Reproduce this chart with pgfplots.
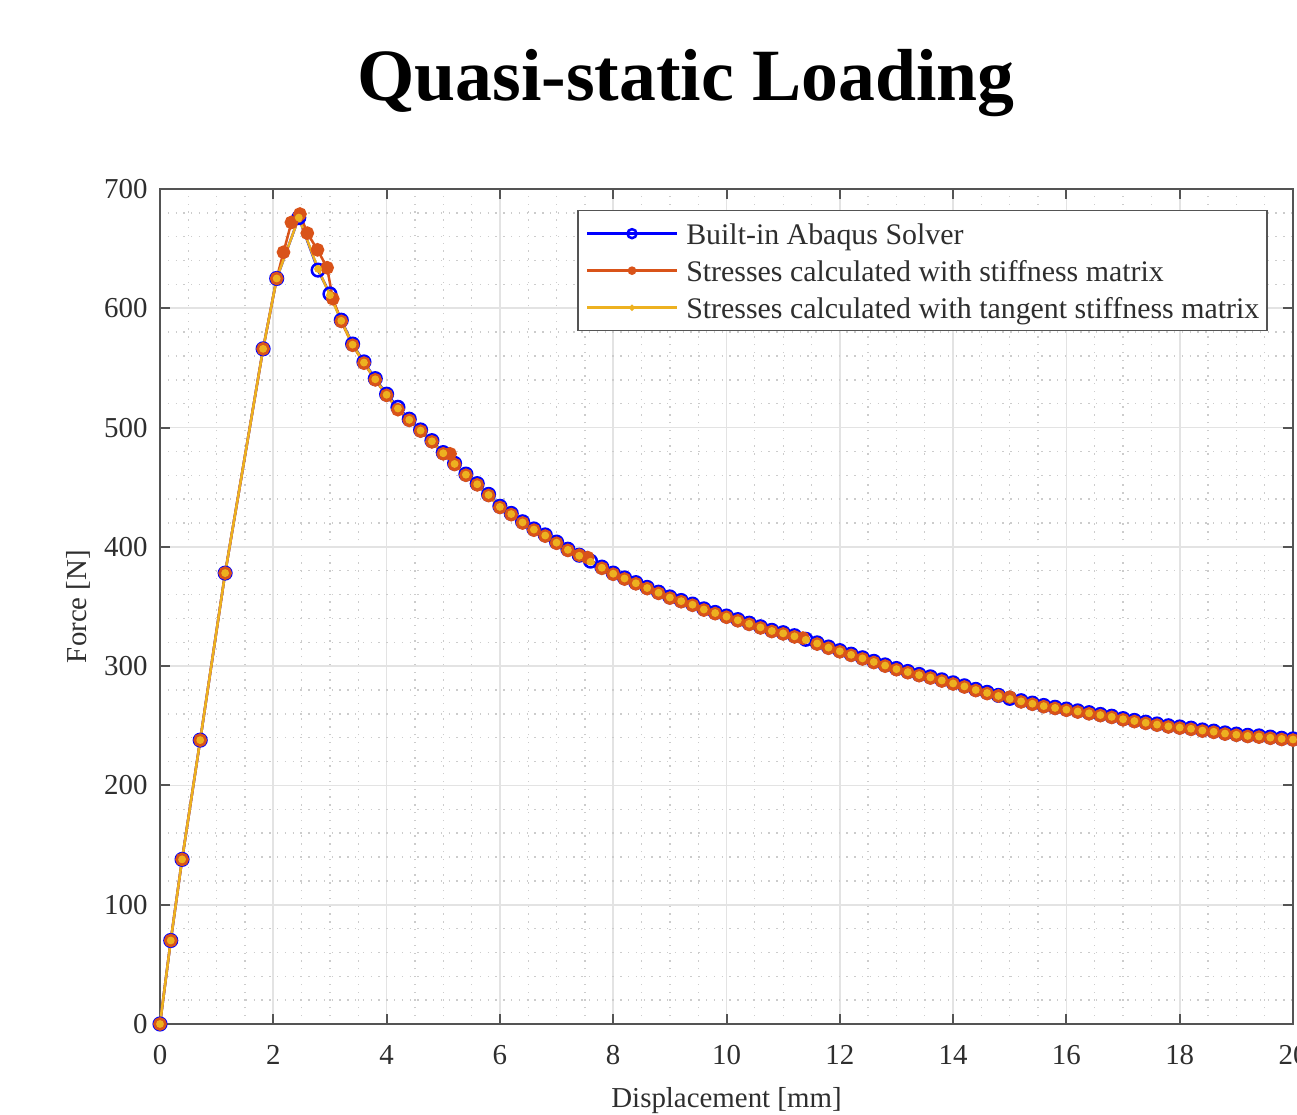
\documentclass[border=0pt]{standalone}
\usepackage{fontspec}
\setmainfont{Liberation Serif}
\usepackage{pgfplots}
\usepackage{pgfplotstable}
\pgfplotsset{compat=1.18}

\definecolor{mblue}{rgb}{0,0,1}
\definecolor{morange}{rgb}{0.85,0.325,0.098}
\definecolor{myellow}{rgb}{0.929,0.694,0.125}
\definecolor{axgray}{rgb}{0.33,0.33,0.33}
\definecolor{txtgray}{rgb}{0.18,0.18,0.18}

% Built-in Abaqus solver
\pgfplotstableread{
x y
0 0
0.19 70
0.39 138
0.71 238
1.15 378
1.82 566
2.06 625
2.45 676
2.79 632
3.0 612
3.2 590
3.4 570
3.6 555
3.8 541
4.0 528
4.2 517
4.4 507
4.6 498
4.8 489
5.0 479
5.2 470
5.4 461
5.6 453
5.8 444
6.0 434
6.2 428
6.4 421
6.6 415
6.8 410
7.0 404
7.2 398
7.4 393
7.6 388
7.8 383
8.0 378
8.2 374
8.4 370
8.6 366
8.8 362
9.0 358
9.2 355
9.4 352
9.6 348
9.8 345
10.0 342
10.2 339
10.4 336
10.6 333
10.8 330
11.0 328
11.2 325.5
11.4 322.5
11.6 319.5
11.8 316
12.0 313
12.2 310
12.4 307
12.6 304
12.8 301
13.0 298
13.2 295.5
13.4 293
13.6 291
13.8 288.5
14.0 286
14.2 283.5
14.4 280.5
14.6 278
14.8 275.5
15.0 273
15.2 271
15.4 269
15.6 267
15.8 265.5
16.0 264
16.2 262.5
16.4 261
16.6 259.5
16.8 258
17.0 256
17.2 254.5
17.4 253
17.6 251.5
17.8 250
18.0 249
18.2 248
18.4 246.5
18.6 245.5
18.8 244
19.0 243
19.2 242
19.4 241.5
19.6 240.5
19.8 239.5
20.0 239
}\abaqus

% stiffness matrix
\pgfplotstableread{
x y
0 0
0.19 70
0.39 138
0.71 238
1.15 378
1.82 566
2.06 625
2.18 647
2.32 672
2.47 679
2.60 663
2.78 649
2.95 634
3.05 608
3.2 589
3.4 569
3.6 554
3.8 540
4.0 527
4.2 515
4.4 506
4.6 497
4.8 488
5.0 478
5.12 478
5.2 469
5.4 460
5.6 452
5.8 443
6.0 433
6.2 427
6.4 420
6.6 414
6.8 409
7.0 403
7.2 397
7.4 393
7.55 391
7.8 382
8.0 377
8.2 373
8.4 369
8.6 365
8.8 361
9.0 357
9.2 354
9.4 351
9.6 347
9.8 344
10.0 341
10.2 338
10.4 335
10.6 332
10.8 329
11.0 327
11.2 324.5
11.35 323.5
11.6 318.5
11.8 315
12.0 312
12.2 309
12.4 306
12.6 303
12.8 300
13.0 297
13.2 294.5
13.4 292
13.6 290
13.8 287.5
14.0 285
14.2 282.5
14.4 279.5
14.6 277
14.8 275
15.0 274
15.2 270
15.4 268
15.6 266
15.8 264.5
16.0 263
16.2 261.5
16.4 260
16.6 258.5
16.8 257
17.0 255
17.2 253.5
17.4 252
17.6 250.5
17.8 249
18.0 248
18.2 247
18.4 245.5
18.6 244.5
18.8 243
19.0 242
19.2 241
19.4 240.5
19.6 239.5
19.8 238.5
20.0 238
}\stiff

% tangent stiffness matrix
\pgfplotstableread{
x y
0 0
0.19 70
0.39 138
0.71 238
1.15 378
1.82 566
2.06 625
2.45 676
2.79 633
3.0 611
3.2 589.5
3.4 569.5
3.6 554.5
3.8 540.5
4.0 527.5
4.2 516
4.4 506.5
4.6 497.5
4.8 488.5
5.0 478.5
5.2 469.5
5.4 460.5
5.6 452.5
5.8 443.5
6.0 433.5
6.2 427.5
6.4 420.5
6.6 414.5
6.8 409.5
7.0 403.5
7.2 397.5
7.4 392.5
7.6 387.5
7.8 382.5
8.0 377.5
8.2 373.5
8.4 369.5
8.6 365.5
8.8 361.5
9.0 357.5
9.2 354.5
9.4 351.5
9.6 347.5
9.8 344.5
10.0 341.5
10.2 338.5
10.4 335.5
10.6 332.5
10.8 329.5
11.0 327.5
11.2 325
11.4 322
11.6 319
11.8 315.5
12.0 312.5
12.2 309.5
12.4 306.5
12.6 303.5
12.8 300.5
13.0 297.5
13.2 295
13.4 292.5
13.6 290.5
13.8 288
14.0 285.5
14.2 283
14.4 280
14.6 277.5
14.8 275
15.0 272.5
15.2 270.5
15.4 268.5
15.6 266.5
15.8 265
16.0 263.5
16.2 262
16.4 260.5
16.6 259
16.8 257.5
17.0 255.5
17.2 254
17.4 252.5
17.6 251
17.8 249.5
18.0 248.5
18.2 247.5
18.4 246
18.6 245
18.8 243.5
19.0 242.5
19.2 241.5
19.4 241
19.6 240
19.8 239
20.0 238.5
}\tangent

\begin{document}
\begin{tikzpicture}
\begin{axis}[
  at={(0,0)}, anchor=south west,
  scale only axis, width=1133bp, height=835bp,
  xmin=0, xmax=20, ymin=0, ymax=700,
  xtick={0,2,...,20}, ytick={0,100,...,700},
  minor x tick num=3, minor y tick num=4,
  grid=both,
  major grid style={line width=1.8bp, color=black!11},
  minor grid style={line width=1.3bp, color=black!20, dash pattern=on 1.3bp off 6.5bp},
  axis line style={line width=2bp, color=axgray},
  major tick style={line width=2bp, color=axgray},
  major tick length=10bp, minor tick length=0bp,
  tick align=inside,
  ticklabel style={font=\fontsize{29}{30}\selectfont, color=txtgray},
  xticklabel style={yshift=-18bp},
  yticklabel style={xshift=-9bp},
  /pgf/number format/assume math mode=true,
  xlabel={Displacement [mm]}, ylabel={Force [N]},
  label style={font=\fontsize{29}{30}\selectfont, color=txtgray},
  x label style={at={(axis description cs:0.5,-0.092)}, anchor=center},
  y label style={at={(axis description cs:-0.072,0.5)}, anchor=center},
  legend style={at={(0.978,0.975)}, anchor=north east,
    font=\fontsize{30}{36}\selectfont, draw=axgray, line width=1.6bp,
    fill=white, inner xsep=8bp, inner ysep=8bp,
    nodes={inner sep=0pt, text height=26bp, text depth=4bp, text=txtgray},
    row sep=7bp, column sep=8bp},
  legend cell align=left,
  legend image code/.code={
    \draw[mark repeat=2,mark phase=2,#1]
      plot coordinates {(0bp,0bp) (45bp,0bp) (90bp,0bp)};},
]
\addplot[mblue, line width=2.5bp, mark=o, mark size=6.3bp,
  mark options={line width=2.5bp},
  legend image post style={mark size=4.5bp}] table {\abaqus};
\addlegendentry{Built-in Abaqus Solver}
\addplot[morange, line width=2.5bp, mark=*, mark size=5.6bp,
  legend image post style={mark size=3bp}] table {\stiff};
\addlegendentry{Stresses calculated with stiffness matrix}
\addplot[myellow, line width=2.5bp, mark=*, mark size=2.6bp,
  legend image post style={mark size=1.6bp}] table {\tangent};
\addlegendentry{Stresses calculated with tangent stiffness matrix}
\end{axis}
\path (current axis.north west) ++(526bp,88bp)
  node[anchor=base, font=\bfseries\fontsize{74}{80}\selectfont] {Quasi-static Loading};
\pgfresetboundingbox
\path[use as bounding box] (current axis.south west) ++(-160bp,-91bp) rectangle ++(1297bp,1115bp);
\end{tikzpicture}
\end{document}
